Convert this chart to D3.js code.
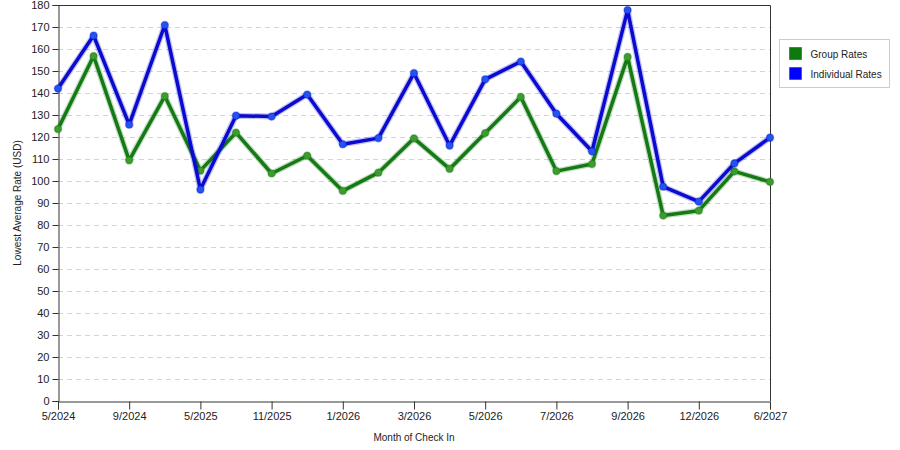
<!DOCTYPE html>
<html>
<head>
<meta charset="utf-8">
<script src="https://cdn.jsdelivr.net/npm/d3@7"></script>
<style>
  body { margin: 0; background: #fff; }
  svg text { font-family: "Liberation Sans", Arial, sans-serif; fill: #222; }
</style>
</head>
<body>
<div id="chart"></div>
<script>
// values, one point per month index
var groupRates = [123.6, 156.8, 109.4, 138.6, 104.7, 122.0, 103.4, 111.5, 95.5, 103.8, 119.4,
                  105.5, 121.8, 138.2, 104.5, 107.7, 156.4, 84.3, 86.5, 104.4, 99.6];
var individualRates = [142.0, 166.1, 125.6, 170.9, 96.1, 129.7, 129.3, 139.3, 116.7, 119.5, 149.0,
                       116.1, 146.2, 154.3, 130.6, 113.5, 177.7, 97.4, 90.6, 108.0, 119.7];
// labelled ticks sit on every other point
var tickLabels = ["5/2024", "9/2024", "5/2025", "11/2025", "1/2026", "3/2026",
                  "5/2026", "7/2026", "9/2026", "12/2026", "6/2027"];
var yTicks = d3.range(0, 181, 10);

var series = [
  { name: "Group Rates", values: groupRates, line: "#157a15", dot: "#3f9a2f", swatch: "#0e7a0e" },
  { name: "Individual Rates", values: individualRates, line: "#0a0ad0", dot: "#2255ee", swatch: "#0000ff" }
];

var width = 900, height = 450;
var margin = { left: 58, top: 5, right: 130, bottom: 49 };

var svg = d3.select("#chart")
            .append("svg")
            .attr("width", width)
            .attr("height", height);

var x = d3.scalePoint()
          .domain(d3.range(groupRates.length))
          .range([margin.left, width - margin.right]);

var y = d3.scaleLinear()
          .domain([0, 180])
          .range([height - margin.bottom, margin.top]);

// dashed grid
svg.append("g")
   .selectAll("line")
   .data(yTicks.slice(1, -1))
   .enter()
   .append("line")
   .attr("x1", margin.left)
   .attr("x2", width - margin.right)
   .attr("y1", function(d) { return Math.round(y(d)) + 0.5; })
   .attr("y2", function(d) { return Math.round(y(d)) + 0.5; })
   .attr("stroke", "#d4d4d4")
   .attr("stroke-dasharray", "5,4");

// frame top and right
svg.append("path")
   .attr("d", "M" + margin.left + "," + (margin.top + 0.5) + "H" + (width - margin.right + 0.5) +
              "V" + (height - margin.bottom))
   .attr("fill", "none")
   .attr("stroke", "#333");

var yAxis = svg.append("g")
   .attr("transform", "translate(" + (margin.left + 0.5) + ",0)")
   .call(d3.axisLeft(y).tickValues(yTicks).tickSize(6).tickPadding(3));

var xAxis = svg.append("g")
   .attr("transform", "translate(0," + (height - margin.bottom + 0.5) + ")")
   .call(d3.axisBottom(x)
           .tickValues(d3.range(0, groupRates.length, 2))
           .tickFormat(function(d) { return tickLabels[d / 2]; })
           .tickSize(8).tickPadding(3));

[yAxis, xAxis].forEach(function(ax) {
  ax.select(".domain").attr("stroke", "#333");
  ax.selectAll(".tick line").attr("stroke", "#333");
  ax.selectAll("text").attr("font-size", "11px").attr("fill", "#222")
    .attr("font-family", "\"Liberation Sans\", Arial, sans-serif");
});

// axis titles
svg.append("text")
   .text("Lowest Average Rate (USD)")
   .attr("transform", "translate(21," + ((margin.top + height - margin.bottom) / 2) + ") rotate(-90)")
   .attr("text-anchor", "middle")
   .attr("font-size", "10px");

svg.append("text")
   .text("Month of Check In")
   .attr("x", (margin.left + width - margin.right) / 2)
   .attr("y", 441)
   .attr("text-anchor", "middle")
   .attr("font-size", "10px");

var line = d3.line()
   .x(function(d, i) { return x(i); })
   .y(function(d) { return y(d); });

series.forEach(function(s) {
  var g = svg.append("g");
  // soft halo under the line
  g.append("path")
   .attr("d", line(s.values))
   .attr("fill", "none")
   .attr("stroke", s.line)
   .attr("stroke-opacity", 0.25)
   .attr("stroke-width", 6)
   .attr("stroke-linejoin", "round");
  g.append("path")
   .attr("d", line(s.values))
   .attr("fill", "none")
   .attr("stroke", s.line)
   .attr("stroke-width", 3.5)
   .attr("stroke-linejoin", "round");
  g.selectAll("circle")
   .data(s.values)
   .enter()
   .append("circle")
   .attr("cx", function(d, i) { return x(i); })
   .attr("cy", function(d) { return y(d); })
   .attr("r", 3.6)
   .attr("fill", s.dot)
   .attr("stroke", s.line)
   .attr("stroke-opacity", 0.35)
   .attr("stroke-width", 1.5);
});

// legend
var legend = svg.append("g").attr("transform", "translate(779.5,39.5)");
legend.append("rect")
   .attr("width", 110)
   .attr("height", 48)
   .attr("fill", "#fff")
   .attr("stroke", "#ccc");

var item = legend.selectAll("g.item")
   .data(series)
   .enter()
   .append("g")
   .attr("class", "item")
   .attr("transform", function(d, i) { return "translate(10," + (8 + i * 20) + ")"; });

item.append("rect")
   .attr("width", 12)
   .attr("height", 12)
   .attr("fill", function(d) { return d.swatch; })
   .attr("stroke", "#333")
   .attr("stroke-opacity", 0.5);

item.append("text")
   .text(function(d) { return d.name; })
   .attr("x", 21)
   .attr("y", 10)
   .attr("font-size", "10px");
</script>
</body>
</html>
